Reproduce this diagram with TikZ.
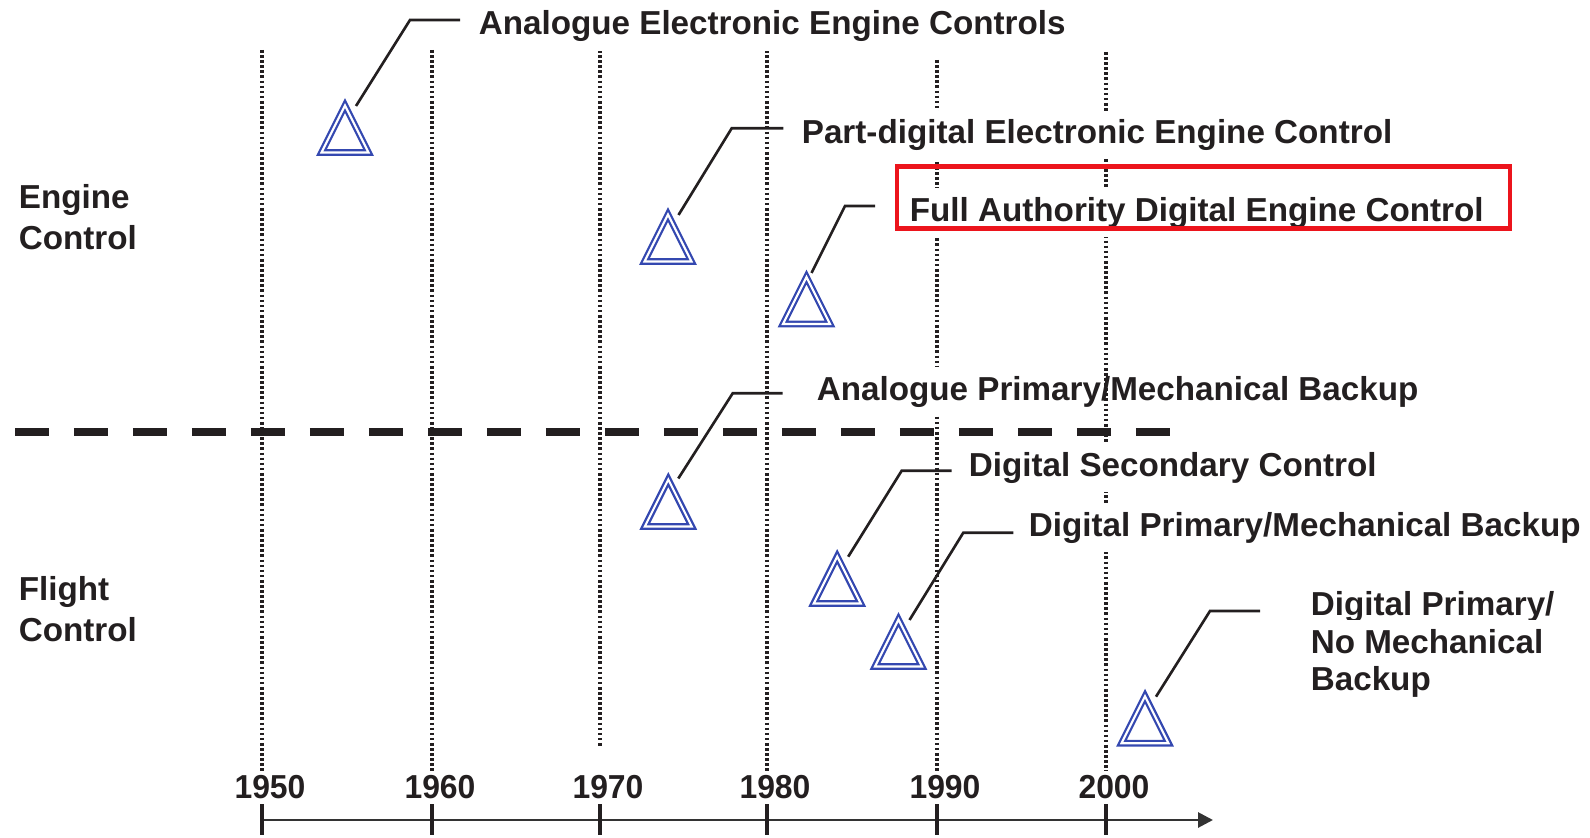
\documentclass[tikz,border=0pt]{standalone}
\usepackage{fontspec}
\setmainfont{Liberation Sans}
\usetikzlibrary{arrows.meta,calc}
\definecolor{triblue}{RGB}{52,72,176}
\definecolor{hired}{RGB}{236,20,28}
\definecolor{ink}{RGB}{35,31,32}
\newcommand\tmark[3]{%
  \coordinate (#1) at (#2,#3);
  \draw[tri] ($(#1)+(0,-23.5)$) -- ($(#1)+(23.5,23.5)$) -- ($(#1)+(-23.5,23.5)$) -- cycle;}
\begin{document}
\begin{tikzpicture}[x=0.02cm,y=-0.02cm,
  lbl/.style={font=\fontsize{18.9pt}{22pt}\selectfont\bfseries, text=ink, anchor=base west, inner xsep=2pt, inner ysep=5pt, fill=white},
  yr/.style={font=\fontsize{18.9pt}{22pt}\selectfont\bfseries, text=ink, anchor=base, inner sep=1pt, xscale=0.96},
  vdot/.style={ink, line width=1.8pt, dash pattern=on 1.5pt off 1.4pt},
  sep/.style={ink, line width=5pt, dash pattern=on 0.68cm off 0.5cm},
  leader/.style={ink, line width=1.5pt},
  tri/.style={draw=triblue, line width=1.3pt, double=white, double distance=1.2pt, line join=miter},
  axisline/.style={black!80, line width=1.6pt, -{Triangle[length=8.5pt,width=8.5pt]}},
  tick/.style={ink, line width=2.3pt},
  hbox/.style={hired, line width=2.8pt}
]
\useasboundingbox (0,0) rectangle (1590,838);

% vertical dotted year lines
\foreach \x/\t/\b in {262/50/771, 432/50/771, 600/50/748, 767/50/771, 937/60/771, 1106/52/771}
  \draw[vdot] (\x,\t) -- (\x,\b);

% separator between engine and flight control
\draw[sep] (15,432) -- (1176,432);

% time axis
\draw[axisline] (262,820) -- (1213,820);
\foreach \x in {262,432,600,767,937,1106}
  \draw[tick] (\x,804) -- (\x,835);

% year labels
\node[yr] (y1950) at (270,798) {1950};
\node[yr] (y1960) at (440,798) {1960};
\node[yr] (y1970) at (608,798) {1970};
\node[yr] (y1980) at (775,798) {1980};
\node[yr] (y1990) at (945,798) {1990};
\node[yr] (y2000) at (1114,798) {2000};

% triangle markers
\tmark{t1}{345}{129}
\tmark{t2}{668}{238}
\tmark{t3}{806.5}{300.5}
\tmark{t4}{668.3}{503}
\tmark{t5}{837.2}{580}
\tmark{t6}{898.5}{643}
\tmark{t7}{1145}{719.7}

% leader bends and ends
\coordinate (k1) at (410,20);     \coordinate (e1) at (460,20);
\coordinate (k2) at (731.7,128.3); \coordinate (e2) at (783.3,128.3);
\coordinate (k3) at (845,206);    \coordinate (e3) at (875,206);
\coordinate (k4) at (732.7,393.3); \coordinate (e4) at (782.7,393.3);
\coordinate (k5) at (901.7,470.7); \coordinate (e5) at (951.7,470.7);
\coordinate (k6) at (963.3,532.7); \coordinate (e6) at (1013.3,532.7);
\coordinate (k7) at (1210,611);   \coordinate (e7) at (1260,611);

\draw[leader] ($(t1)+(11,-23)$) -- (k1) -- (e1);
\draw[leader] ($(t2)+(10.5,-23)$) -- (k2) -- (e2);
\draw[leader] ($(t3)+(5,-27.5)$) -- (k3) -- (e3);
\draw[leader] ($(t4)+(10,-24.5)$) -- (k4) -- (e4);
\draw[leader] ($(t5)+(11,-23.3)$) -- (k5) -- (e5);
\draw[leader] ($(t6)+(11,-23)$) -- (k6) -- (e6);
\draw[leader] ($(t7)+(11,-23)$) -- (k7) -- (e7);

% labels
\node[lbl] (l1) at (475,35) {Analogue Electronic Engine Controls};
\node[lbl] (l2) at (798,143.5) {Part-digital Electronic Engine Control};
\node[lbl] (l3) at (906,221) {Full Authority Digital Engine Control};
\node[lbl] (l4) at (813,400) {Analogue Primary/Mechanical Backup};
\node[lbl] (l5) at (965,476) {Digital Secondary Control};
\node[lbl] (l6) at (1025,536) {Digital Primary/Mechanical Backup};
\node[lbl] (l7a) at (1307,615) {Digital Primary/};
\node[lbl] (l7b) at (1307,653) {No Mechanical};
\node[lbl] (l7c) at (1307,690) {Backup};
\node[lbl] (ec1) at (15,209) {Engine};
\node[lbl] (ec2) at (15,249) {Control};
\node[lbl] (fc1) at (15,600) {Flight};
\node[lbl] (fc2) at (15,641) {Control};

% 2000 line shows through the slash of the analogue label
\begin{scope}
  \clip (1095,360) rectangle (1117,420);
  \draw[vdot] (1106,52) -- (1106,771);
\end{scope}

% highlight box
\draw[hbox] (897,166.5) rectangle (1510,228.5);
\end{tikzpicture}
\end{document}
